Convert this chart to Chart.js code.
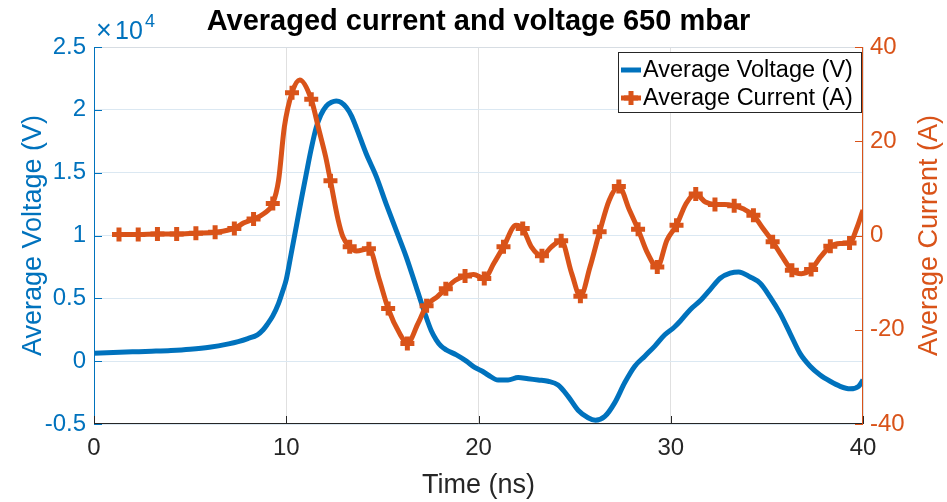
<!DOCTYPE html>
<html>
<head>
<meta charset="utf-8">
<title>Averaged current and voltage 650 mbar</title>
<script src="https://cdn.jsdelivr.net/npm/chart.js@4"></script>
<style>
  html, body { margin: 0; padding: 0; background: #ffffff; }
  #wrap { width: 947px; height: 502px; }
</style>
</head>
<body>
<div id="wrap"><canvas id="ivChart" width="947" height="502"></canvas></div>
<script>
// averaged voltage trace (time in ns, volts)
const voltTime = [0, 1, 2, 3, 4, 5, 6, 7, 7.5, 8, 8.5, 8.8, 9, 9.3, 9.6, 9.8, 10, 10.25, 10.52, 10.8,
  11.04, 11.3, 11.56, 11.8, 12.08, 12.35, 12.6, 12.85, 13.12, 13.4, 13.64, 14.16, 14.68, 15.2, 15.72,
  16.24, 16.76, 17.28, 17.55, 17.8, 18.05, 18.32, 18.85, 19.37, 19.8, 20.2, 20.5, 21.02, 21.54, 22.06,
  22.58, 23.1, 23.62, 24.14, 24.66, 25.18, 25.7, 26.08, 26.57, 27.09, 27.61, 28.13, 28.65, 29.17, 29.69,
  30.18, 30.5, 31.01, 31.53, 32.05, 32.57, 33.09, 33.53, 34.13, 34.65, 35.17, 35.69, 36.21, 36.73, 37.25,
  37.77, 38.29, 38.81, 39.33, 39.77, 40];
const voltValue = [630, 690, 740, 790, 850, 950, 1110, 1380, 1560, 1800, 2100, 2500, 2900, 3600, 4600, 5500, 6500, 8500, 10700, 13000,
  14900, 16900, 18600, 19600, 20300, 20600, 20700, 20600, 20200, 19500, 18600, 16500, 14700, 12500, 10400,
  8300, 5900, 3500, 2400, 1700, 1200, 900, 500, 0, -500, -800, -1100, -1500, -1500, -1300,
  -1400, -1500, -1600, -1900, -2800, -3900, -4500, -4700, -4400, -3300, -1700, -400, 400, 1200, 2100,
  2700, 3200, 4100, 4800, 5700, 6600, 7000, 7100, 6700, 6200, 5100, 3800, 2200, 600, -400,
  -1100, -1600, -2000, -2200, -2000, -1500];

// averaged current trace (time in ns, amps); currMark flags the samples drawn with a + marker
const currTime = [1.3, 2.3, 3.3, 4.3, 5.3, 6.3, 7.3, 7.8, 8.3, 8.85, 9.3, 9.6, 9.9, 10.3, 10.7, 11.3, 11.7, 12.05,
  12.3, 12.7, 12.95, 13.3, 13.65, 14.3, 14.85, 15.3, 15.9, 16.3, 16.85, 17.3, 17.85, 18.3, 18.8, 19.3, 19.75,
  20.3, 20.8, 21.3, 21.95, 22.3, 22.75, 23.3, 23.8, 24.3, 24.85, 25.3, 25.8, 26.3, 26.8, 27.3, 27.85, 28.3,
  28.8, 29.3, 29.8, 30.3, 30.8, 31.3, 31.8, 32.3, 32.8, 33.3, 33.8, 34.3, 34.8, 35.3, 35.8, 36.3, 36.8,
  37.3, 37.8, 38.3, 38.8, 39.3, 39.7, 40];
const currValue = [0.2, 0.2, 0.3, 0.3, 0.5, 0.7, 1.5, 2.7, 3.5, 4.7, 6.8, 11.7, 23, 30.3, 33.0, 28.9, 22.4, 16.7,
  11.6, 3.3, -0.3, -2.4, -3.3, -2.8, -9.5, -15.5, -20.8, -22.9, -18.7, -14.9, -13.0, -11.3, -9.5, -8.6, -8.3,
  -9.1, -5.9, -2.4, 2.2, 1.5, -2.4, -4.3, -2.4, -1.1, -8.1, -12.9, -6.7, 0.8, 7.5, 10.4, 5.4, 1.3,
  -3.8, -6.7, -1.0, 2.2, 6.8, 8.8, 7.1, 6.6, 6.6, 6.3, 5.6, 4.3, 1.5, -1.3, -4.5, -7.4, -8.1,
  -7.2, -4.5, -2.3, -1.7, -1.6, 1.8, 5.4];
const currMark = [1, 1, 1, 1, 1, 1, 1, 0, 1, 0, 1, 0, 0, 1, 0, 1, 0, 0,
  1, 0, 0, 1, 0, 1, 0, 1, 0, 1, 0, 1, 0, 1, 0, 1, 0,
  1, 0, 1, 0, 1, 0, 1, 0, 1, 0, 1, 0, 1, 0, 1, 0, 1,
  0, 1, 0, 1, 0, 1, 0, 1, 0, 1, 0, 1, 0, 1, 0, 1, 0,
  1, 0, 1, 0, 1, 0, 0];

const timeTicks = [0, 10, 20, 30, 40];
const voltTicks = [-5000, 0, 5000, 10000, 15000, 20000, 25000];
const currTicks = [-40, -20, 0, 20, 40];

const BLUE = '#0072BD';
const ORANGE = '#D95319';
const DARK = '#262626';
const FONT = '"Liberation Sans", Arial, Helvetica, sans-serif';

Chart.defaults.font.family = FONT;

// MATLAB-ish frame, tick marks, titles and legend drawn on top of the plot
const matlabFrame = {
  id: 'matlabFrame',
  afterDraw(chart) {
    const { ctx, chartArea: { left, right, top, bottom }, scales } = chart;
    const tick = 8;
    ctx.save();

    // box
    ctx.lineWidth = 1;
    ctx.strokeStyle = '#d7dde3';
    ctx.beginPath(); ctx.moveTo(left, top + 0.5); ctx.lineTo(right, top + 0.5); ctx.stroke();
    ctx.strokeStyle = DARK;
    ctx.beginPath(); ctx.moveTo(left, bottom - 0.5); ctx.lineTo(right, bottom - 0.5); ctx.stroke();
    ctx.strokeStyle = BLUE;
    ctx.beginPath(); ctx.moveTo(left + 0.5, top); ctx.lineTo(left + 0.5, bottom); ctx.stroke();
    ctx.strokeStyle = ORANGE;
    ctx.beginPath(); ctx.moveTo(right - 0.5, top); ctx.lineTo(right - 0.5, bottom); ctx.stroke();

    // inward ticks
    ctx.strokeStyle = DARK;
    timeTicks.forEach(v => {
      const x = Math.round(scales.x.getPixelForValue(v)) + 0.5;
      ctx.beginPath(); ctx.moveTo(x, bottom); ctx.lineTo(x, bottom - tick); ctx.stroke();
    });
    ctx.strokeStyle = BLUE;
    voltTicks.forEach(v => {
      const y = Math.round(scales.yV.getPixelForValue(v)) + 0.5;
      ctx.beginPath(); ctx.moveTo(left, y); ctx.lineTo(left + tick, y); ctx.stroke();
    });
    ctx.strokeStyle = ORANGE;
    currTicks.forEach(v => {
      const y = Math.round(scales.yA.getPixelForValue(v)) + 0.5;
      ctx.beginPath(); ctx.moveTo(right, y); ctx.lineTo(right - tick, y); ctx.stroke();
    });

    // exponent label of the voltage axis
    ctx.fillStyle = BLUE;
    ctx.textAlign = 'left';
    ctx.textBaseline = 'alphabetic';
    ctx.font = '27px ' + FONT;
    ctx.fillText('\u00d7', left + 2, 39);
    ctx.font = '25px ' + FONT;
    ctx.fillText('10', left + 21, 39);
    ctx.font = '18px ' + FONT;
    ctx.fillText('4', left + 51, 27);

    // title
    ctx.fillStyle = '#000000';
    ctx.textAlign = 'center';
    ctx.textBaseline = 'middle';
    ctx.font = 'bold 29px ' + FONT;
    ctx.fillText('Averaged current and voltage 650 mbar', (left + right) / 2, 22);

    // axis titles
    ctx.font = '27px ' + FONT;
    ctx.fillStyle = DARK;
    ctx.fillText('Time (ns)', (left + right) / 2, 486);
    const midY = (top + bottom) / 2;
    ctx.save();
    ctx.translate(34, midY);
    ctx.rotate(-Math.PI / 2);
    ctx.fillStyle = BLUE;
    ctx.fillText('Average Voltage (V)', 0, 0);
    ctx.restore();
    ctx.save();
    ctx.translate(930, midY);
    ctx.rotate(-Math.PI / 2);
    ctx.fillStyle = ORANGE;
    ctx.fillText('Average Current (A)', 0, 0);
    ctx.restore();

    // legend
    const lx = 618, ly = 52, lw = 244, lh = 61;
    ctx.fillStyle = '#ffffff';
    ctx.fillRect(lx, ly, lw, lh);
    ctx.strokeStyle = DARK;
    ctx.lineWidth = 1;
    ctx.strokeRect(lx + 0.5, ly + 0.5, lw - 1, lh - 1);
    const rows = [ly + 18, ly + 46];
    ctx.font = '23.5px ' + FONT;
    ctx.textAlign = 'left';
    chart.data.datasets.forEach((ds, i) => {
      const y = rows[i];
      ctx.strokeStyle = ds.borderColor;
      ctx.lineWidth = 5;
      ctx.lineCap = 'butt';
      ctx.beginPath(); ctx.moveTo(lx + 3, y); ctx.lineTo(lx + 23, y); ctx.stroke();
      if (ds.pointStyle === 'cross') {
        ctx.lineWidth = 5;
        ctx.beginPath();
        ctx.moveTo(lx + 13, y - 7); ctx.lineTo(lx + 13, y + 7);
        ctx.moveTo(lx + 6, y); ctx.lineTo(lx + 20, y);
        ctx.stroke();
      }
      ctx.fillStyle = '#000000';
      ctx.fillText(ds.label, lx + 25, y + 1);
    });

    ctx.restore();
  }
};

const ctxIV = document.getElementById('ivChart').getContext('2d');
const ivChart = new Chart(ctxIV, {
  type: 'line',
  data: {
    datasets: [
      {
        label: 'Average Voltage (V)',
        data: voltTime.map((t, i) => ({ x: t, y: voltValue[i] })),
        yAxisID: 'yV',
        borderColor: BLUE,
        backgroundColor: BLUE,
        borderWidth: 5,
        pointRadius: 0,
        cubicInterpolationMode: 'monotone',
        order: 2
      },
      {
        label: 'Average Current (A)',
        data: currTime.map((t, i) => ({ x: t, y: currValue[i] })),
        yAxisID: 'yA',
        borderColor: ORANGE,
        backgroundColor: ORANGE,
        borderWidth: 5,
        pointStyle: 'cross',
        pointRadius: c => (currMark[c.dataIndex] ? 7 : 0),
        pointBorderWidth: 5,
        pointBorderColor: ORANGE,
        cubicInterpolationMode: 'monotone',
        order: 1
      }
    ]
  },
  options: {
    responsive: false,
    animation: false,
    events: [],
    layout: { padding: { top: 47, left: 0, right: 0, bottom: 0 } },
    plugins: {
      legend: { display: false },
      title: { display: false },
      tooltip: { enabled: false }
    },
    scales: {
      x: {
        type: 'linear',
        min: 0,
        max: 40,
        afterBuildTicks: s => { s.ticks = timeTicks.map(v => ({ value: v })); },
        ticks: { color: DARK, font: { size: 24 }, padding: 10, maxRotation: 0 },
        grid: { color: '#e0e0e0', drawTicks: false },
        border: { display: false },
        afterFit: s => { s.height = 78; }
      },
      yV: {
        position: 'left',
        min: -5000,
        max: 25000,
        afterBuildTicks: s => { s.ticks = voltTicks.map(v => ({ value: v })); },
        ticks: {
          color: BLUE,
          font: { size: 24 },
          padding: 8,
          callback: v => String(v / 10000)
        },
        grid: { color: '#dbe8f2', drawTicks: false },
        border: { display: false },
        afterFit: s => { s.width = 94; }
      },
      yA: {
        position: 'right',
        min: -40,
        max: 40,
        afterBuildTicks: s => { s.ticks = currTicks.map(v => ({ value: v })); },
        ticks: { color: ORANGE, font: { size: 24 }, padding: 7 },
        grid: { display: false, drawTicks: false },
        border: { display: false },
        afterFit: s => { s.width = 84; }
      }
    }
  },
  plugins: [matlabFrame]
});
</script>
</body>
</html>
